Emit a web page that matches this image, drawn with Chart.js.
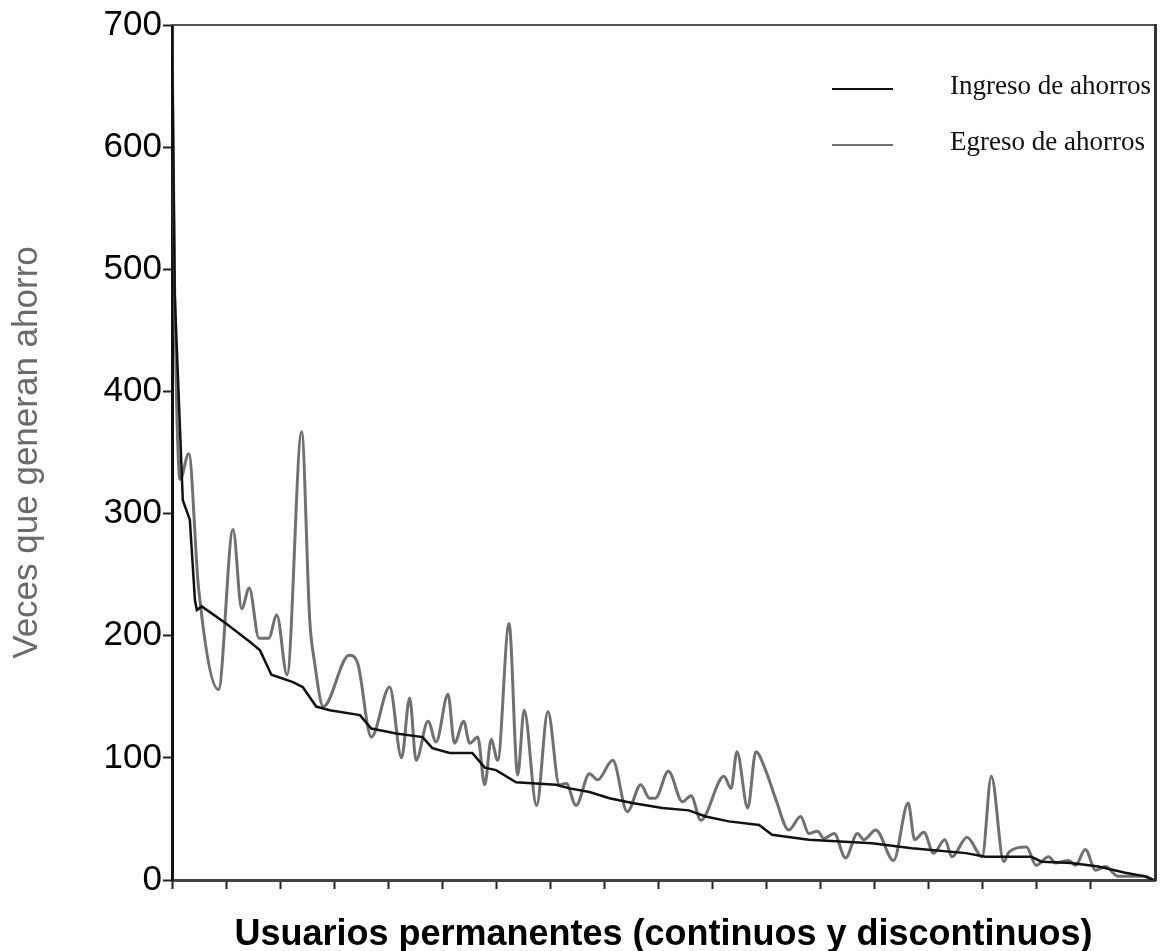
<!DOCTYPE html>
<html>
<head>
<meta charset="utf-8">
<script src="https://cdn.jsdelivr.net/npm/chart.js@4"></script>
<style>
  body { margin: 0; background: #fff; }
  #wrap { position: relative; width: 1160px; height: 951px; }
  #leyenda { position: absolute; left: 832px; top: 68px; font-family: "Liberation Serif", "Times New Roman", serif; font-size: 27px; color: #111; }
  .item { position: relative; height: 56px; }
  .linea { position: absolute; left: 0; top: 20px; width: 61px; height: 2px; }
  .texto { position: absolute; left: 118px; top: 2px; white-space: nowrap; }
</style>
</head>
<body>
<div id="wrap">
  <canvas id="grafico" width="1160" height="951"></canvas>
  <div id="leyenda"></div>
</div>
<script>
// usuario (posicion en el eje x) y veces que generan ahorro
const ingresoX = [0, 0.5, 1.8, 2, 3.3, 4.25, 4.6, 5.5, 10, 14.4, 16.3, 18.4, 22.4, 24.2, 26.7, 29.2, 34.8, 36.9, 41.5, 46.4, 48.2, 51.4, 55.6, 57.9, 60, 63.7, 71.1, 73.6, 77.3, 81, 85.2, 90.8, 95.7, 98.8, 103.1, 108.7, 111.1, 117.9, 129.6, 137, 147, 150.6, 159.1, 161, 166.5, 171.5, 176.5, 180.2, 181.7];
const ingresoY = [700, 480, 333, 311, 295, 229, 221, 224, 210, 195, 188, 168, 162, 158, 142, 139, 135, 124, 120, 117, 108, 104, 104, 92, 90, 80, 78, 75, 72, 67, 63, 59, 57, 52, 48, 45, 37, 33, 30, 26, 22, 19, 19, 15, 14, 11, 6, 3, 0];

const egresoX = [0, 0.5, 1.5, 3.1, 4.9, 8.6, 11.3, 12.9, 14.3, 16.1, 17.9, 19.4, 21.3, 24.0, 25.5, 26.4, 28.0, 32.8, 34.4, 36.9, 40.3, 42.5, 44, 45.2, 47.4, 48.9, 51.1, 52.3, 54, 55.1, 56.6, 57.9, 59.1, 60.3, 62.4, 64.0, 65.2, 67.5, 69.6, 71.7, 73, 74.8, 77.3, 78.8, 81.6, 84.3, 86.8, 88.4, 89.5, 91.9, 94.5, 96.1, 97.9, 102.2, 103.5, 104.6, 106.6, 108.1, 109.9, 111.8, 114.2, 116.4, 117.9, 119.5, 120.7, 122.6, 124.7, 126.9, 128.1, 130.3, 133.6, 136.3, 137.5, 139.2, 141, 143.1, 144.4, 147.2, 150, 151.7, 154, 155, 158.2, 160, 162.3, 163.6, 166, 167.3, 169.1, 171, 172.8, 175.2, 180, 181.7];
const egresoY = [700, 480, 328, 349, 240, 156, 287, 222, 239, 198, 198, 217, 168, 367, 213, 178, 142, 184, 177, 117, 158, 100, 149, 98, 130, 113, 152, 112, 130, 112, 117, 78, 115, 98, 210, 86, 139, 61, 138, 78, 79, 61, 87, 82, 98, 56, 78, 67, 67, 89, 64, 69, 49, 85, 75, 105, 59, 105, 90, 66, 41, 52, 38, 40, 34, 38, 18, 38, 33, 41, 16, 63, 33, 39, 22, 33, 19, 35, 19, 85, 15, 23, 27, 12, 19, 14, 16, 12, 25, 8, 11, 3, 3, 0];

const series = ['Ingreso de ahorros', 'Egreso de ahorros'];
const colores = ['#111111', '#707070'];
const yTicks = [0, 100, 200, 300, 400, 500, 600, 700];

function puntos(xs, ys) {
    return xs.map((x, i) => ({ x: x, y: ys[i] }));
}

const ctx = document.getElementById('grafico').getContext('2d');

new Chart(ctx, {
    type: 'line',
    data: {
        datasets: [
            {
                label: series[0],
                data: puntos(ingresoX, ingresoY),
                borderColor: colores[0],
                borderWidth: 2.5,
                pointRadius: 0,
                tension: 0,
                order: 1
            },
            {
                label: series[1],
                data: puntos(egresoX, egresoY),
                borderColor: colores[1],
                borderWidth: 3,
                pointRadius: 0,
                cubicInterpolationMode: 'monotone',
                order: 2
            }
        ]
    },
    options: {
        responsive: false,
        animation: false,
        layout: { padding: { top: 25, right: 5, left: 0, bottom: 0 } },
        plugins: {
            legend: { display: false },
            tooltip: { enabled: false }
        },
        scales: {
            x: {
                type: 'linear',
                min: 0,
                max: 182,
                afterBuildTicks: s => { s.ticks = s.ticks.filter(t => t.value % 10 === 0); },
                afterFit: s => { s.height = 71; },
                ticks: { display: false, stepSize: 10 },
                grid: { drawOnChartArea: false, tickLength: 9, tickWidth: 2, tickColor: '#222' },
                border: { color: '#444', width: 3 },
                title: {
                    display: true,
                    text: 'Usuarios permanentes (continuos y discontinuos)',
                    color: '#000',
                    font: { family: 'Liberation Sans, Arial, sans-serif', size: 36, weight: 'bold' },
                    padding: { top: 0, bottom: -6 }
                }
            },
            y: {
                min: 0,
                max: 700,
                afterBuildTicks: s => { s.ticks = yTicks.map(v => ({ value: v })); },
                afterFit: s => { s.width = 172; },
                ticks: {
                    color: '#000',
                    padding: 1,
                    font: { family: 'Liberation Sans, Arial, sans-serif', size: 35 }
                },
                grid: { drawOnChartArea: false, tickLength: 9, tickWidth: 2, tickColor: '#222' },
                border: { color: '#111', width: 3 },
                title: {
                    display: true,
                    text: 'Veces que generan ahorro',
                    color: '#6a6a6a',
                    font: { family: 'Liberation Sans, Arial, sans-serif', size: 35 },
                    padding: { top: 6, bottom: 0 }
                }
            },
            x2: {
                type: 'linear',
                position: 'top',
                display: true,
                ticks: { display: false },
                grid: { display: false, drawTicks: false },
                border: { color: '#555', width: 2 }
            },
            y2: {
                type: 'linear',
                position: 'right',
                display: true,
                ticks: { display: false },
                grid: { display: false, drawTicks: false },
                border: { color: '#333', width: 3 }
            }
        }
    }
});

// leyenda
const leyenda = document.getElementById('leyenda');
series.forEach((nombre, i) => {
    const item = document.createElement('div');
    item.className = 'item';
    item.innerHTML = '<div class="linea" style="background:' + colores[i] + '"></div><div class="texto">' + nombre + '</div>';
    leyenda.appendChild(item);
});
</script>
</body>
</html>
